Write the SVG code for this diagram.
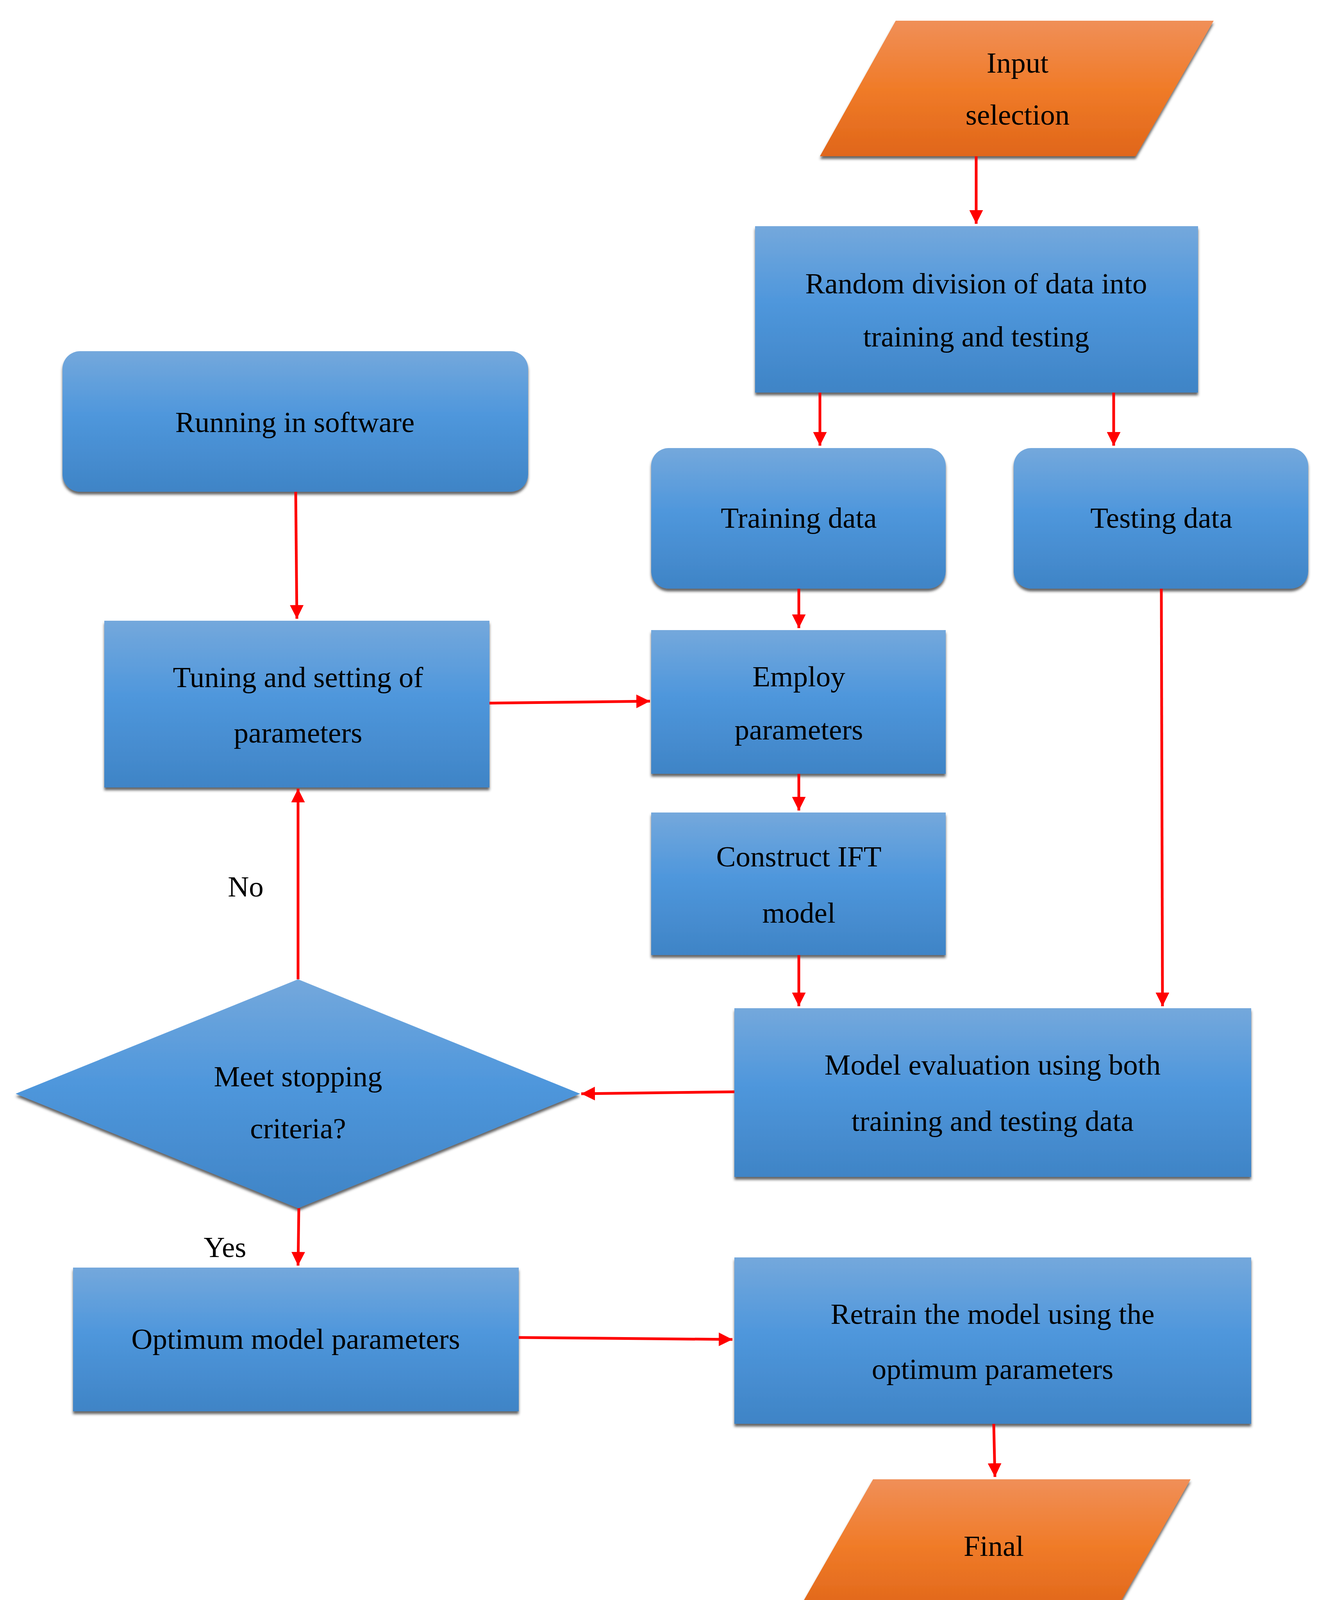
<svg xmlns="http://www.w3.org/2000/svg" width="3392" height="4188" viewBox="0 0 3392 4188">
<defs>
<linearGradient id="blue" x1="0" y1="0" x2="0" y2="1"><stop offset="0" stop-color="#74a8dc"/><stop offset="0.45" stop-color="#4f97dc"/><stop offset="1" stop-color="#3f84c6"/></linearGradient>
<linearGradient id="orange" x1="0" y1="0" x2="0" y2="1"><stop offset="0" stop-color="#f08f58"/><stop offset="0.5" stop-color="#f07b28"/><stop offset="1" stop-color="#e0661a"/></linearGradient>
<filter id="sh" x="-5%" y="-5%" width="110%" height="115%"><feDropShadow dx="0" dy="7" stdDeviation="3" flood-color="#333" flood-opacity="0.75"/></filter>
<marker id="ah" viewBox="0 0 10 10" refX="10" refY="5" markerWidth="5" markerHeight="5" orient="auto" markerUnits="strokeWidth"><path d="M0,0 L10,5 L0,10 z" fill="#ff0000"/></marker>
<style>
.b{fill:url(#blue);filter:url(#sh)}
.o{fill:url(#orange);filter:url(#sh)}
text{font-family:"Liberation Serif","Times New Roman",serif;font-size:75px;fill:#000;text-anchor:middle;dominant-baseline:central}
.c line{stroke:#ff0000;stroke-width:7;marker-end:url(#ah)}
</style>
</defs>
<rect width="3392" height="4188" fill="#fff"/>
<g id="input"><polygon class="o" points="2293,53 3107,53 2907,400 2099,400"/><text x="2605" y="160">Input</text><text x="2605" y="293">selection</text></g>
<g id="random"><rect class="b" x="1933" y="579" width="1134" height="426"/><text x="2499" y="725">Random division of data into</text><text x="2499" y="861">training and testing</text></g>
<g id="running"><rect class="b" x="160" y="899" width="1192" height="360" rx="45"/><text x="755" y="1080">Running in software</text></g>
<g id="training"><rect class="b" x="1667" y="1147" width="754" height="360" rx="45"/><text x="2045" y="1325">Training data</text></g>
<g id="testing"><rect class="b" x="2595" y="1147" width="754" height="360" rx="45"/><text x="2973" y="1325">Testing data</text></g>
<g id="tuning"><rect class="b" x="267" y="1589" width="986" height="427"/><text x="763" y="1733">Tuning and setting of</text><text x="763" y="1875">parameters</text></g>
<g id="employ"><rect class="b" x="1667" y="1613" width="754" height="368"/><text x="2045" y="1731">Employ</text><text x="2045" y="1867">parameters</text></g>
<g id="construct"><rect class="b" x="1667" y="2080" width="754" height="365"/><text x="2045" y="2192">Construct IFT</text><text x="2045" y="2336">model</text></g>
<g id="evaluation"><rect class="b" x="1880" y="2581" width="1323" height="432"/><text x="2541" y="2725">Model evaluation using both</text><text x="2541" y="2869">training and testing data</text></g>
<g id="decision"><polygon class="b" points="40,2800 763,2507 1485,2800 763,3093"/><text x="763" y="2755">Meet stopping</text><text x="763" y="2888">criteria?</text></g>
<g id="optimum"><rect class="b" x="187" y="3245" width="1141" height="368"/><text x="757" y="3427">Optimum model parameters</text></g>
<g id="retrain"><rect class="b" x="1880" y="3219" width="1323" height="426"/><text x="2541" y="3363">Retrain the model using the</text><text x="2541" y="3504">optimum parameters</text></g>
<g id="final"><polygon class="o" points="2235,3787 3048,3787 2853,4128 2040,4128"/><text x="2544" y="3957">Final</text></g>
<g id="connectors" class="c">
<line x1="2499" y1="400" x2="2499" y2="573"/>
<line x1="2099" y1="1005" x2="2099" y2="1141"/>
<line x1="2851" y1="1005" x2="2851" y2="1141"/>
<line x1="757" y1="1259" x2="760" y2="1584"/>
<line x1="2045" y1="1507" x2="2045" y2="1608"/>
<line x1="1253" y1="1800" x2="1664" y2="1795"/>
<line x1="2045" y1="1981" x2="2045" y2="2075"/>
<line x1="2045" y1="2445" x2="2045" y2="2576"/>
<line x1="2973" y1="1507" x2="2976" y2="2576"/>
<line x1="1880" y1="2795" x2="1488" y2="2800"/>
<line x1="763" y1="2507" x2="763" y2="2019"/>
<line x1="765" y1="3093" x2="763" y2="3240"/>
<line x1="1328" y1="3424" x2="1875" y2="3429"/>
<line x1="2544" y1="3645" x2="2547" y2="3781"/>
</g>
<text x="629" y="2269">No</text>
<text x="576" y="3192">Yes</text>
</svg>
